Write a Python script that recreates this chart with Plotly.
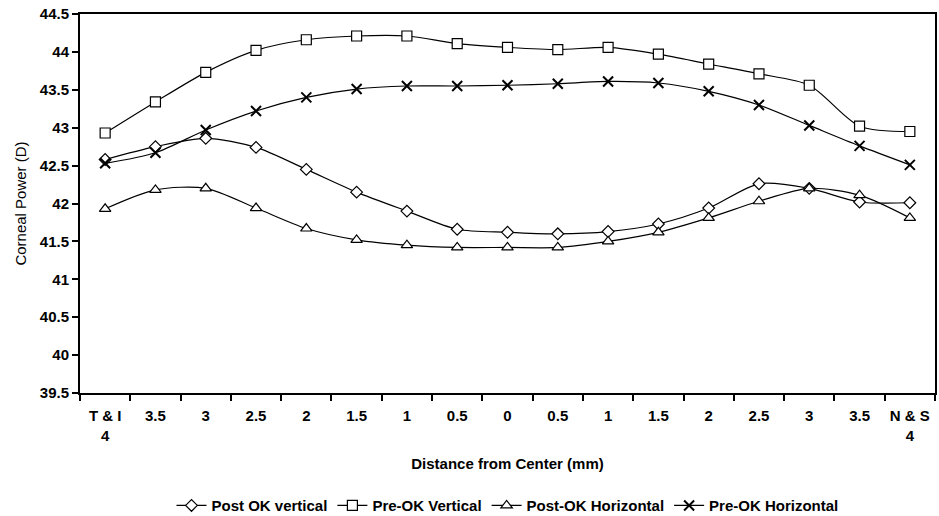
import plotly.graph_objects as go

x_labels = ["T & I<br>4", "3.5", "3", "2.5", "2", "1.5", "1", "0.5", "0",
            "0.5", "1", "1.5", "2", "2.5", "3", "3.5", "N & S<br>4"]
x_pos = list(range(len(x_labels)))

post_ok_vertical = [42.58, 42.75, 42.86, 42.74, 42.45, 42.15, 41.90, 41.66, 41.62,
                    41.60, 41.63, 41.73, 41.94, 42.26, 42.20, 42.02, 42.01]
pre_ok_vertical = [42.93, 43.34, 43.73, 44.02, 44.16, 44.21, 44.21, 44.11, 44.06,
                   44.03, 44.06, 43.97, 43.84, 43.71, 43.56, 43.02, 42.95]
post_ok_horizontal = [41.93, 42.18, 42.20, 41.94, 41.67, 41.52, 41.45, 41.42, 41.42,
                      41.42, 41.50, 41.62, 41.81, 42.03, 42.20, 42.11, 41.81]
pre_ok_horizontal = [42.53, 42.67, 42.97, 43.22, 43.40, 43.51, 43.55, 43.55, 43.56,
                     43.58, 43.61, 43.59, 43.48, 43.30, 43.03, 42.76, 42.51]

y_ticks = [39.5, 40, 40.5, 41, 41.5, 42, 42.5, 43, 43.5, 44, 44.5]

series = [
    ("Post OK vertical", post_ok_vertical, "diamond", 9),
    ("Pre-OK Vertical", pre_ok_vertical, "square", 10),
    ("Post-OK Horizontal", post_ok_horizontal, "triangle-up", 10),
    ("Pre-OK Horizontal", pre_ok_horizontal, "x-thin", 10),
]

fig = go.Figure()
for name, vals, sym, size in series:
    if sym == "x-thin":
        marker = dict(symbol=sym, size=size, color="black",
                      line=dict(color="black", width=2))
    else:
        marker = dict(symbol=sym, size=size, color="white",
                      line=dict(color="black", width=1.2))
    fig.add_trace(go.Scatter(
        x=x_pos, y=vals, name=name, mode="lines+markers",
        line=dict(color="black", width=1.2, shape="spline", smoothing=0.8),
        marker=marker,
    ))

font_family = "Liberation Sans, Arial, sans-serif"
bold15 = dict(family=font_family, size=15, color="black", weight="bold")

fig.update_layout(
    width=939, height=516,
    margin=dict(l=80, r=2, t=14, b=123),
    plot_bgcolor="white", paper_bgcolor="white",
    font=dict(family=font_family, color="black", size=15),
    showlegend=True,
    legend=dict(
        orientation="h", xref="paper", x=0.5, xanchor="center",
        yref="container", y=0.02, yanchor="middle",
        font=bold15, itemwidth=30, tracegroupgap=0,
    ),
)

fig.update_xaxes(
    range=[-0.5, len(x_labels) - 0.5],
    tickmode="array", tickvals=x_pos, ticktext=x_labels,
    ticks="", showgrid=False, zeroline=False,
    showline=True, linecolor="black", linewidth=2, mirror=True,
    tickfont=bold15, ticklabelstandoff=8,
    minor=dict(tickmode="linear", tick0=0.5, dtick=1, ticks="outside",
               ticklen=6, tickwidth=2, tickcolor="black", showgrid=False),
    title=dict(text="Distance from Center (mm)", standoff=16, font=bold15),
)

fig.update_yaxes(
    range=[39.5, 44.5],
    tickmode="array", tickvals=y_ticks, ticktext=[f"{v:g}" for v in y_ticks],
    ticks="outside", ticklen=6, tickwidth=2, tickcolor="black",
    showgrid=False, zeroline=False,
    showline=True, linecolor="black", linewidth=2, mirror=True,
    tickfont=bold15,
    title=dict(text="Corneal Power (D)", standoff=10,
               font=dict(family=font_family, size=15, color="black")),
)

fig.write_html("out.html")
